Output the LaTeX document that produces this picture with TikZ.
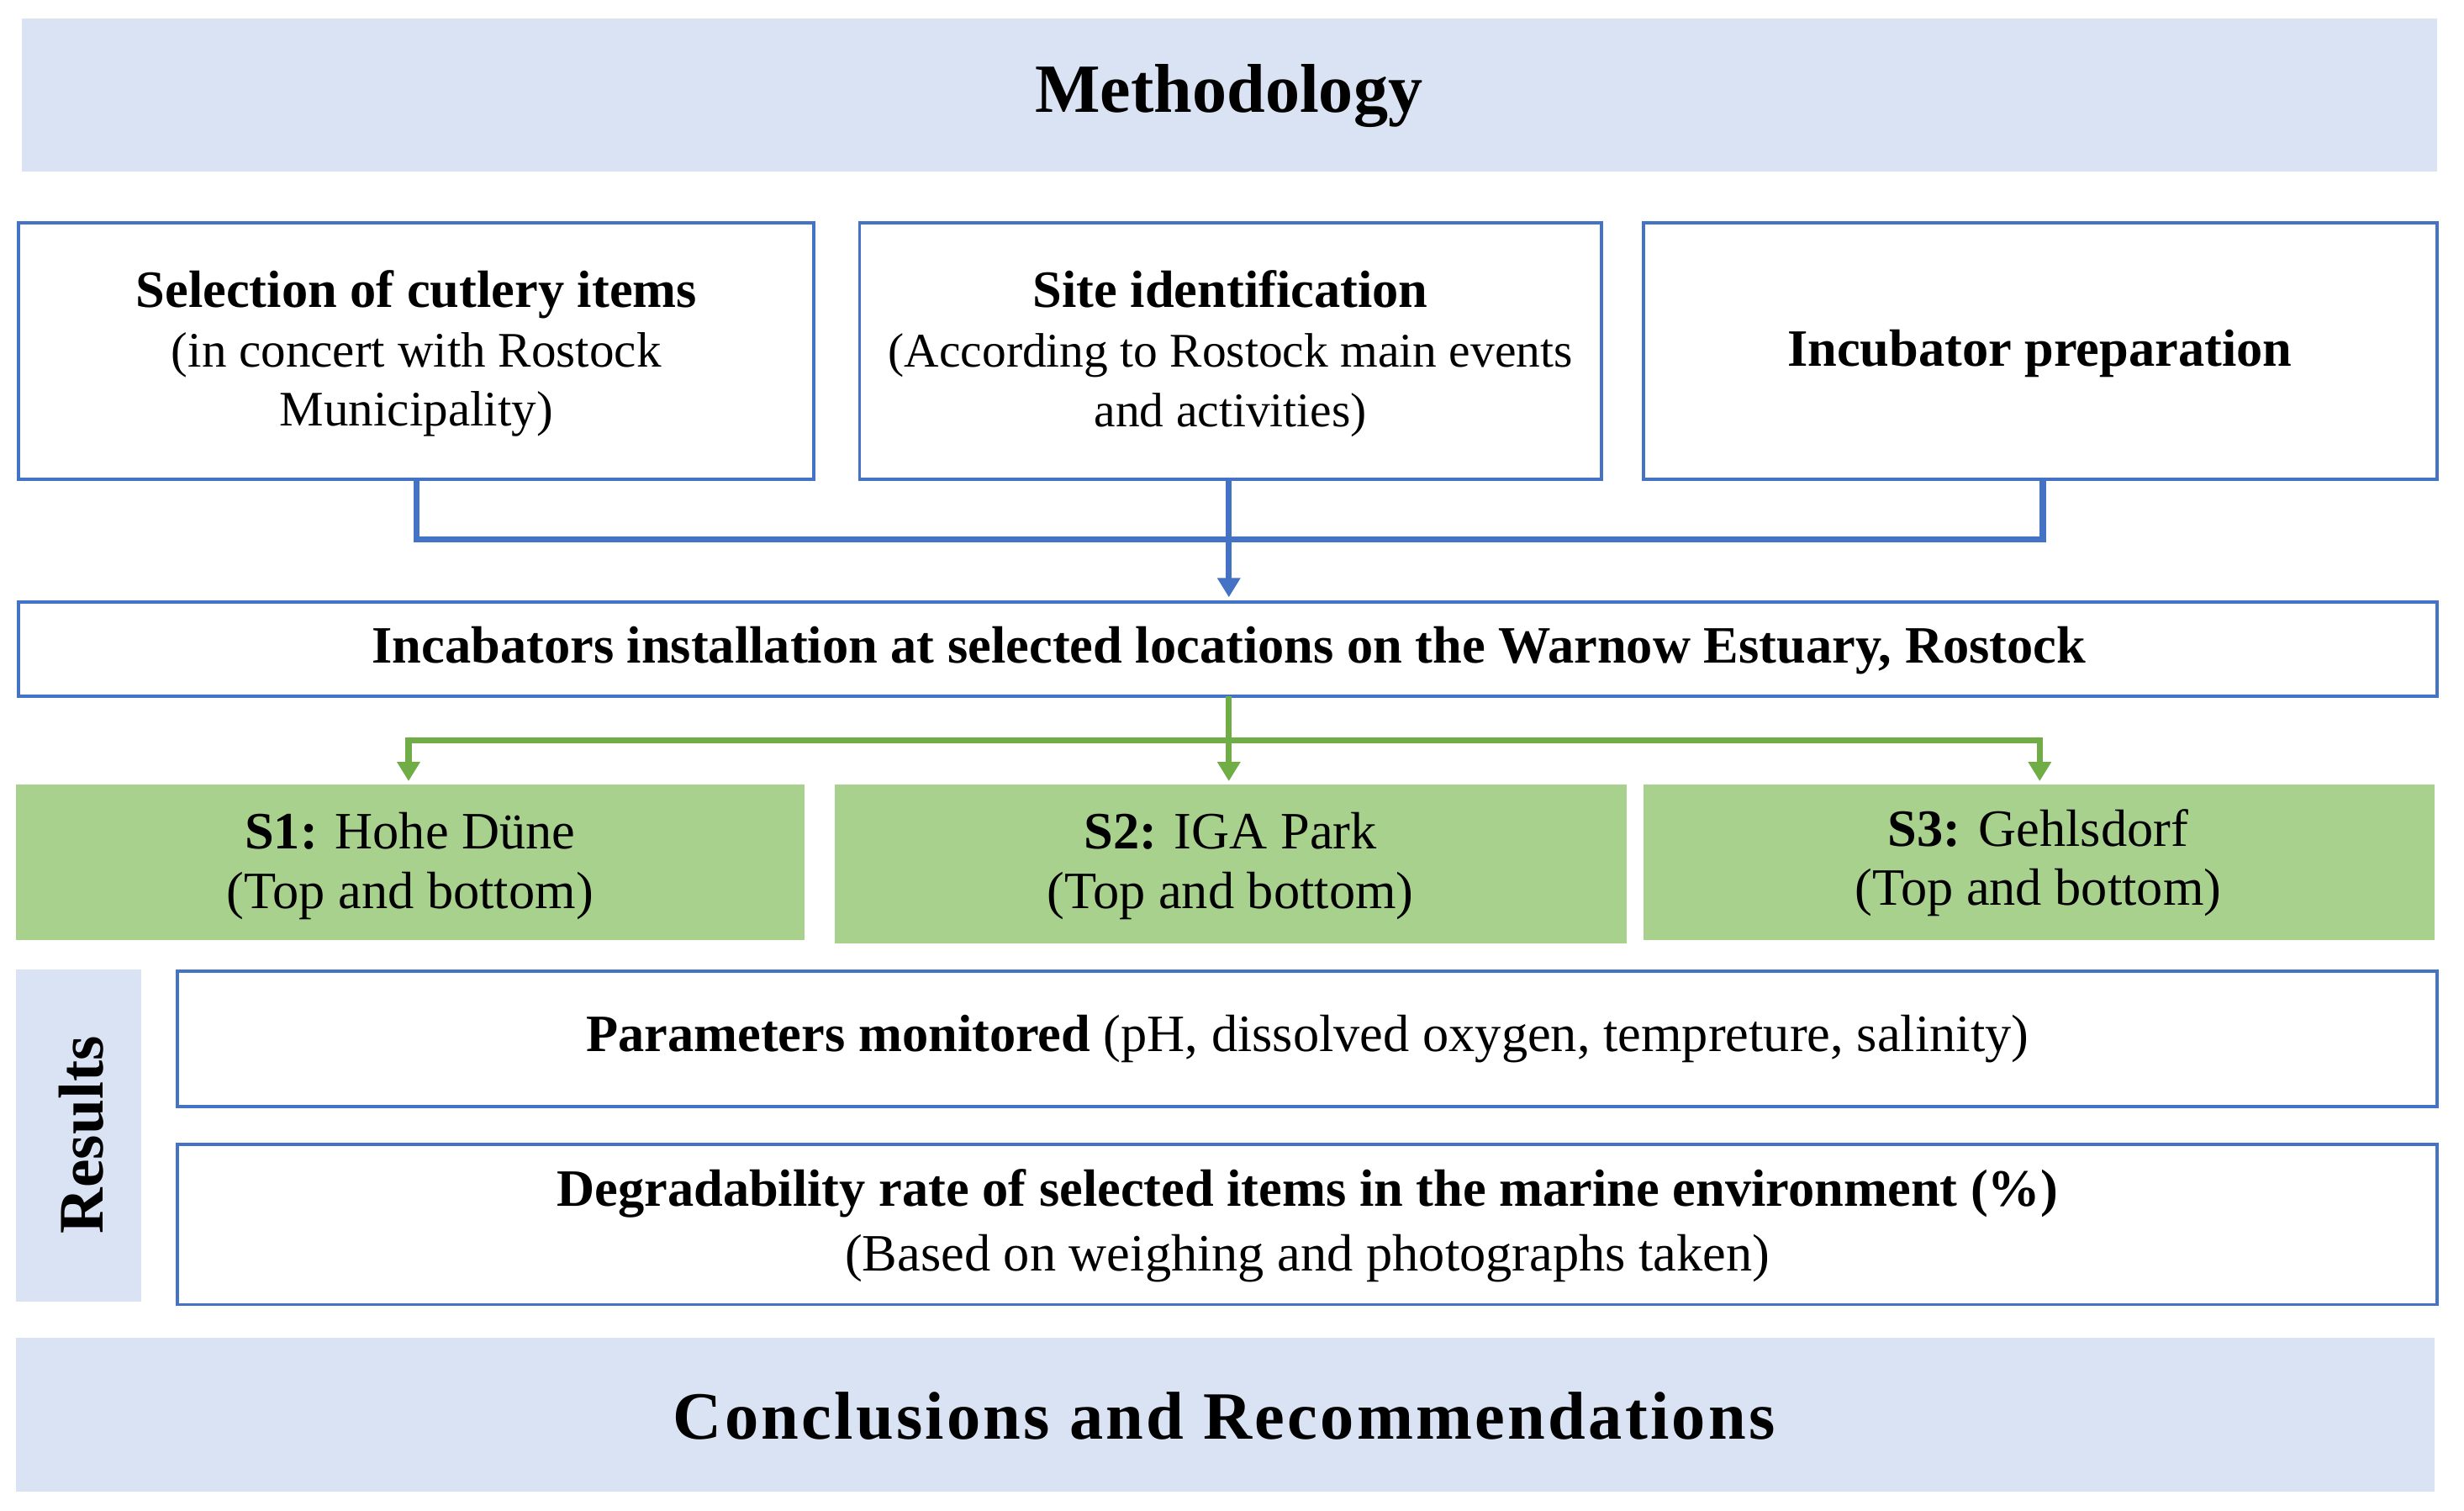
\documentclass[tikz,border=0pt]{standalone}
\usepackage{fontspec}
\setmainfont{Liberation Serif}
\usetikzlibrary{arrows.meta}
\definecolor{band}{HTML}{DAE3F3}
\definecolor{bl}{HTML}{4472C4}
\definecolor{gr}{HTML}{70AD47}
\definecolor{gf}{HTML}{A9D18E}
\begin{document}
\begin{tikzpicture}[x=0.02cm,y=-0.02cm,
  box/.style={draw=bl,line width=1.2pt,fill=white},
  bnd/.style={fill=band},
  gbox/.style={fill=gf},
  txt/.style={align=center,font=\fontsize{19}{21.5}\selectfont},
  blc/.style={draw=bl,line width=2.2pt},
  grc/.style={draw=gr,line width=2.2pt},
  arr/.style={-{Triangle[length=7pt,width=8pt]}}]
\useasboundingbox (0,0) rectangle (1568,961);
\fill[bnd] (14,12) rectangle (1551,109);
\node[font=\fontsize{25}{28}\selectfont\bfseries] (meth) at (782,61) {Methodology};
\draw[box] (12,142) rectangle (518,305);
\draw[box] (547,142) rectangle (1019,305);
\draw[box] (1046,142) rectangle (1551,305);
\node[txt] (b1) at (265,225) {\textbf{Selection of cutlery items}\\{\fontsize{18}{21.5}\selectfont(in concert with Rostock}\\{\fontsize{18}{21.5}\selectfont Municipality)}};
\node[txt] (b2) at (783,225) {\textbf{Site identification}\\{\fontsize{17.5}{21.5}\selectfont(According to Rostock main events}\\{\fontsize{17.5}{21.5}\selectfont and activities)}};
\node[txt] (b3) at (1298,225) {\textbf{Incubator preparation}};
\coordinate (j1) at (265,343); \coordinate (j3) at (1300,343);
\draw[blc] (265,305) -- (j1) -- (j3) -- (1300,305);
\draw[blc,arr] (782,305) -- (782,380);
\draw[box] (12,383) rectangle (1551,443);
\node[txt] (inst) at (782,414) {\textbf{Incabators installation at selected locations on the Warnow Estuary, Rostock}};
\draw[grc] (782,443) -- (782,471);
\draw[grc] (260,471) -- (1298,471);
\draw[grc,arr] (260,469) -- (260,497);
\draw[grc,arr] (782,469) -- (782,497);
\draw[grc,arr] (1298,469) -- (1298,497);
\fill[gbox] (10,499) rectangle (512,598);
\fill[gbox] (531,499) rectangle (1035,600);
\fill[gbox] (1046,499) rectangle (1549,598);
\node[txt] (s1) at (261,551) {\textbf{S1:} Hohe Düne\\(Top and bottom)};
\node[txt] (s2) at (783,551) {\textbf{S2:} IGA Park\\(Top and bottom)};
\node[txt] (s3) at (1297,549) {\textbf{S3:} Gehlsdorf\\(Top and bottom)};
\fill[bnd] (10,617) rectangle (90,828);
\node[rotate=90,font=\fontsize{23}{26}\selectfont\bfseries] (res) at (52,722) {Results};
\draw[box] (113,618) rectangle (1551,704);
\node[txt] (par) at (832,661) {\textbf{Parameters monitored} (pH, dissolved oxygen, tempreture, salinity)};
\draw[box] (113,728) rectangle (1551,830);
\node[txt] (deg) at (832,780) {\textbf{Degradability rate of selected items in the marine environment (\%)}\\[2pt](Based on weighing and photographs taken)};
\fill[bnd] (10,851) rectangle (1549,949);
\node[font=\fontsize{24.5}{28}\selectfont\bfseries] (conc) at (779,901) {\addfontfeature{LetterSpace=4}Conclusions and Recommendations};
\end{tikzpicture}
\end{document}
